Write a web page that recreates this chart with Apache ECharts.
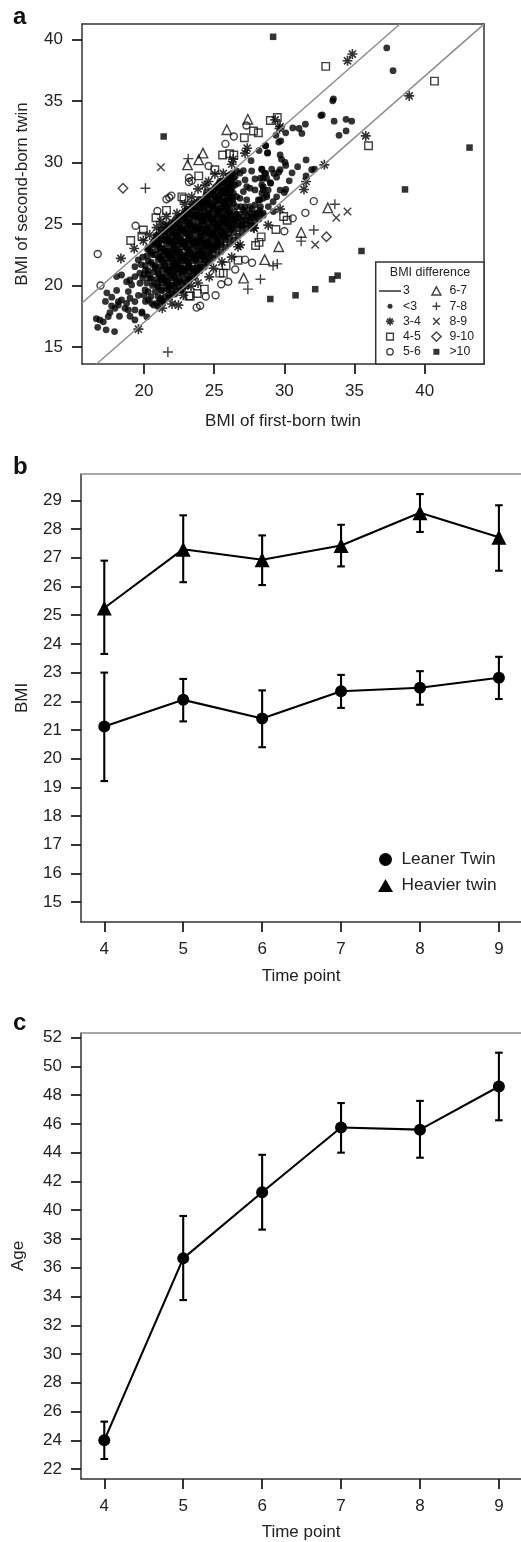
<!DOCTYPE html>
<html><head><meta charset="utf-8">
<script src="https://cdn.jsdelivr.net/npm/echarts@6/dist/echarts.min.js"></script>
<style>html,body{margin:0;padding:0;background:#fff}#c{width:521px;height:1542px}</style>
</head><body><div id="c"></div>
<script>
// Panel a: BMI of first-born twin, BMI of second-born twin
const dotsUnder3 = [
[37.3,39.3],[37.75,37.45],[33.5,35.15],[33.45,35],[32.6,33.8],[32.7,33.85],[33.55,33.35],[34.4,33.5],[34.8,33.35],[33.9,32.2],[34.4,32.55],[31.5,33.1],[30.6,32.8],[31.05,32.75],[31.25,32.35],[30.1,32.4],[29.4,32.2],[29.6,31.65],[29.75,31.75],[28.65,31.35],[28.8,30.75],[29.7,30.6],[29.8,30.25],[30.05,30],[30.1,29.75],[31.55,30.2],[30.95,29.65],[31.95,29.4],[32.15,29.45],[30.55,29.15],[29.7,29.4],[29.6,29.2],[29.1,29.45],[29.25,29.1],[28.4,29.45],[28.6,29.1],[28.5,28.7],[29,28.35],[29.45,28.8],[31.55,28.9],[30.35,28.5],[29.7,27.75],[30.1,27.8],[30,27.55],[29.45,27.2],[29.2,26.8],[28.5,28],[28.85,27.75],[28.75,27.2],[28.4,27.5],[28.25,26.95],[28.25,26.1],
[27.63,30.14],[28.2,30.96],[28.81,30.79],[28.67,31.36],[27.67,29.3],[28.39,29.44],[28.67,29.1],[27.91,28.65],[28.3,28.71],[28.74,28.71],[29.03,28.3],[27.08,29.33],[26.84,29.12],[26.49,28.84],[26.37,28.71],[27.2,28.57],[26.72,28.3],[27.55,27.9],[27.32,28.03],[27.08,27.63],[26.49,28.17],[26.37,27.49],[26.6,27.22],[26.84,27.08],[27.32,26.95],[27.91,27.76],[28.39,28.17],[28.5,27.76],[28.74,27.36],[28.5,27.08],[28.15,26.95],[27.91,26.54],[27.55,26.41],[27.08,26.14],[26.6,26.41],[26.37,26.68],[29.22,26],[28.86,26.41],[28.5,25.87],[27.55,25.87],[28.03,25.87],[27.08,25.6],[26.6,25.73],
[16.6,17.3],[16.85,17.2],[17.1,17.05],[16.7,16.6],[17.3,16.4],[17.9,16.25],[18.25,17.5],[19,17.5],[19.35,17.2],[19.85,17.75],[20.2,17.45],[19.85,17.85],[17.35,19.4],[17.25,18.7],[18.05,19.6],[17.7,19.05],[17.69,18.33],[17.57,17.8],[17.45,17.47],[17.93,18.14],[18.17,18.69],[18.17,18.42],[18.4,18.82],[18.64,18.14],[18.88,18.01],[19.35,18.01],[18.76,18.55],[19,18.96],[19.35,18.69],[18.88,19.5],[19.12,20.04],[18.05,20.72],[18.4,20.85],[18.76,20.31],[19,20.45],[19.35,20.72],[19.35,21.53],[19.59,22.07],[19.71,20.18],[20.07,19.63],[20.3,18.82],[20.54,18.55],[20.9,18.55],[21.13,18.82],
[19.6,19.2],[19.7,21],[19.8,21.7],[19.9,20.6],[19.9,22.3],[20,19.2],[20,20.9],[20.1,21.6],[20.1,18.7],[20.2,22.4],[20.2,20.2],[20.3,19.5],[20.3,21.2],[20.4,22.9],[20.4,20.6],[20.5,19.1],[20.5,21.9],[20.6,23.3],[20.6,20],[20.6,22.5],
[20.7,18.4],[20.8,19.5],[20.7,21.1],[20.9,20.5],[20.8,21.6],[20.7,23.6],[20.9,22.9],[21,19.1],[21,19.9],[21.1,20.9],[21,22.1],[21.1,23.5],[21,24.1],[21.1,21.5],[21.2,22.7],
[21.3,18.7],[21.3,19.6],[21.25,20.2],[21.35,20.7],[21.3,21.3],[21.4,21.9],[21.3,22.4],[21.4,23],[21.3,23.7],[21.4,24.3],[21.5,19.1],[21.55,19.9],[21.5,20.5],[21.6,21],[21.5,21.6],[21.6,22.2],[21.5,22.8],[21.6,23.4],[21.55,24],[21.6,24.6],
[21.75,19.2],[21.8,19.7],[21.7,20.3],[21.85,20.8],[21.75,21.3],[21.8,21.9],[21.7,22.5],[21.85,23],[21.75,23.6],[21.8,24.2],[21.7,24.9],[22,19.3],[22.05,20],[21.95,20.6],[22.1,21.1],[22,21.6],[22.05,22.2],[21.95,22.8],[22.1,23.3],[22,23.9],[22.05,24.5],[21.95,25.1],
[22.25,19.5],[22.3,20.2],[22.2,20.7],[22.35,21.3],[22.25,21.9],[22.3,22.4],[22.2,23],[22.35,23.6],[22.25,24.1],[22.3,24.7],[22.2,25.3],[22.5,19.9],[22.55,20.5],[22.45,21],[22.6,21.6],[22.5,22.1],[22.55,22.7],[22.45,23.3],[22.6,23.8],[22.5,24.4],[22.55,25],[22.45,25.5],
[22.75,19.7],[22.8,20.4],[22.7,20.9],[22.85,21.4],[22.75,22],[22.8,22.5],[22.7,23.1],[22.85,23.6],[22.75,24.2],[22.8,24.8],[22.7,25.3],[22.85,25.8],[23,20.2],[23.05,20.8],[22.95,21.3],[23.1,21.9],[23,22.4],[23.05,23],[22.95,23.5],[23.1,24.1],[23,24.6],[23.05,25.2],[22.95,25.7],[23.1,26.2],
[23.25,20.5],[23.3,21.1],[23.2,21.6],[23.35,22.2],[23.25,22.8],[23.3,23.3],[23.2,23.9],[23.35,24.4],[23.25,25],[23.3,25.5],[23.2,26],[23.5,20.9],[23.55,21.4],[23.45,22],[23.6,22.6],[23.5,23.1],[23.55,23.7],[23.45,24.2],[23.6,24.8],[23.5,25.3],[23.55,25.9],[23.45,26.4],
[23.75,21],[23.8,21.7],[23.7,22.2],[23.85,22.8],[23.75,23.4],[23.8,23.9],[23.7,24.5],[23.85,25],[23.75,25.6],[23.8,26.1],[23.7,26.7],[24,21.5],[24.05,22.1],[23.95,22.6],[24.1,23.2],[24,23.7],[24.05,24.3],[23.95,24.8],[24.1,25.4],[24,25.9],[24.05,26.5],[23.95,27],
[24.25,21.8],[24.3,22.4],[24.2,22.9],[24.35,23.5],[24.25,24.1],[24.3,24.6],[24.2,25.2],[24.35,25.7],[24.25,26.3],[24.3,26.8],[24.5,22.2],[24.55,22.8],[24.45,23.3],[24.6,23.9],[24.5,24.4],[24.55,25],[24.45,25.5],[24.6,26.1],[24.5,26.6],[24.55,27.2],[24.45,27.6],
[24.75,22.4],[24.8,23.1],[24.7,23.7],[24.85,24.2],[24.75,24.8],[24.8,25.3],[24.7,25.9],[24.85,26.4],[24.75,27],[24.8,27.5],[25,22.9],[25.05,23.4],[24.95,24],[25.1,24.5],[25,25.1],[25.05,25.6],[24.95,26.2],[25.1,26.8],[25,27.3],[25.05,27.9],
[25.25,23.2],[25.3,23.8],[25.2,24.3],[25.35,24.9],[25.25,25.4],[25.3,26],[25.2,26.5],[25.35,27.1],[25.25,27.6],[25.3,28.2],[25.5,23.5],[25.55,24.1],[25.45,24.7],[25.6,25.2],[25.5,25.8],[25.55,26.3],[25.45,26.9],[25.6,27.5],[25.5,28],[25.55,28.5],
[25.75,23.9],[25.8,24.4],[25.7,25],[25.85,25.5],[25.75,26.1],[25.8,26.7],[25.7,27.2],[25.85,27.8],[25.75,28.3],[26,24.2],[26.05,24.8],[25.95,25.4],[26.1,25.9],[26,26.5],[26.05,27],[25.95,27.6],[26.1,28.1],[26,28.7],
[26.25,24.6],[26.3,25.2],[26.2,25.7],[26.3,27.1],[26.2,27.8],[26.25,28.4],[26.15,29],[26.5,24.9],[26.55,25.4],[26.45,26],[26.75,25.2],[26.8,25.8],[27,24.9],[27.25,25.3],[27.5,25.2],[27.2,26.4],[27.75,25.5],[27.7,26.2],[28,25.6],[28.3,26.4],
[20.25,22.95],[20.85,24.05],[20.95,23.35],[21.2,24.55],[21.45,24.9],[21.2,18.95],[21.7,19.65],[21.15,20.45],[21.65,21.25],[21.15,22.25],[21.65,22.75],[21.15,23.05],[21.65,23.75],[21.9,20.05],[21.9,21.35],[21.9,22.55],[21.9,23.65],[21.9,24.75],[22.15,19.85],[22.15,21.55],[22.15,22.65],[22.15,23.65],[22.15,24.95],[22.4,20.35],[22.4,21.85],[22.4,22.75],[22.4,24.15],[22.4,25.25],[22.65,20.25],[22.65,21.35],[22.65,22.35],[22.65,23.45],[22.65,24.55],[22.65,25.65],[22.9,21.15],[22.9,22.25],[22.9,23.3],[22.9,24.35],[22.9,25.45],[22.9,26.05],[23.15,20.55],[23.15,21.45],[23.15,22.6],[23.15,23.7],[23.15,24.85],[23.15,25.85],[23.4,21.35],[23.4,22.45],[23.4,23.55],[23.4,24.65],[23.4,25.75],[23.4,26.65],[23.65,21.2],[23.65,22.3],[23.65,23.4],[23.65,24.55],[23.65,25.65],[23.65,26.4],[23.9,21.4],[23.9,22.45],[23.9,23.5],[23.9,24.6],[23.9,25.7],[23.9,26.75],[24.15,22.35],[24.15,23.45],[24.15,24.55],[24.15,25.65],[24.15,26.75],[24.4,22.05],[24.4,23.15],[24.4,24.25],[24.4,25.35],[24.4,26.45],[24.4,27.3],[24.65,22.65],[24.65,23.45],[24.65,24.55],[24.65,25.65],[24.65,26.75],[24.9,23.2],[24.9,24.3],[24.9,25.4],[24.9,26.5],[24.9,27.65],[25.15,23.65],[25.15,24.75],[25.15,25.85],[25.15,26.95],[25.15,28.05],[25.4,24.05],[25.4,25.15],[25.4,26.25],[25.4,27.35],[25.4,28.45],[25.65,24.45],[25.65,25.55],[25.65,26.65],[25.65,27.75],[25.9,24.85],[25.9,25.85],[25.9,26.95],[25.9,28.05],[26.15,25.3],[26.15,26.4],[26.15,27.5],[26.15,28.6],
[20.3,23.1],[20.6,23.4],[20.9,23.8],[21.2,24],[21.5,24.4],[21.8,24.7],[22.1,25],[22.4,25.2],[22.7,25.6],[23,25.9],[23.3,26.2],[23.6,26.4],[23.9,26.7],[24.2,27],[24.5,27.3],[24.8,27.7],[25.1,27.9],[25.4,28.3],[25.7,28.5],[26,28.9],[26.3,29.1],[26.6,29.3],
[21,18.3],[21.4,18.7],[21.8,19],[22.2,19.3],[22.6,19.6],[23,19.95],[23.3,20.5],[23.6,20.7],[24,21.2],[24.3,21.5],[24.6,21.85],[24.9,22.2],[25.2,22.5],[25.5,22.75],[25.8,23.1],[26.1,23.4],[26.4,23.7],[26.7,24],[27,24.3],[27.3,24.6],[27.6,24.9],[27.9,25.1],[28.2,25.4],[28.5,25.7],
[24.9,22.9],[25.2,23.1],[25.5,23.3],[25.8,23.7],[26.1,23.9],[26.4,24.3],[26.7,24.6],[27,24.8],[27.3,25],[27.6,25.5],[27.9,25.8],[28.2,25.9],[26.4,25],[26.7,25.5],[27,25.3],[27.4,25.7],[27.2,26],[26.9,26.4],[26.9,24.9],
[21.2,19.6],[21.7,20.1],[22.2,20.55],[22.7,21.1],[23.2,21.65],[23.7,22.05],[24.2,22.6],[24.7,23.15],[25.2,23.55],[25.7,24.15],[26.2,24.55],
[21,19.95],[21.5,20.4],[22,21],[22.5,21.4],[23,21.95],[23.5,22.5],[24,22.9],[24.5,23.45],[25,24],[25.5,24.4],[26,25],[26.5,25.4],
[20.7,20.2],[21.2,20.7],[21.7,21.2],[22.2,21.7],[22.7,22.2],[23.2,22.7],[23.7,23.2],[24.2,23.7],[24.7,24.2],[25.2,24.7],[25.7,25.2],[26.2,25.7],
[20.5,20.6],[21,21],[21.5,21.55],[22,22.1],[22.5,22.5],[23,23.1],[23.5,23.55],[24,24],[24.5,24.6],[25,25],[25.5,25.55],[26,26.05],
[20.3,20.9],[20.8,21.4],[21.3,21.95],[21.8,22.35],[22.3,22.9],[22.8,23.4],[23.3,23.95],[23.8,24.4],[24.3,24.9],[24.8,25.35],[25.3,25.95],[25.8,26.35],[26.3,26.9],
[20.1,21.25],[20.6,21.7],[21.1,22.3],[21.6,22.7],[22.1,23.3],[22.6,23.7],[23.1,24.3],[23.6,24.75],[24.1,25.25],[24.6,25.8],[25.1,26.2],[25.6,26.8],[26.1,27.2],
[20.3,22],[20.8,22.5],[21.3,23],[21.8,23.5],[22.3,24],[22.8,24.5],[23.3,25],[23.8,25.5],[24.3,26],[24.8,26.5],[25.3,27],[25.8,27.5],[26.3,28],
[20.5,22.7],[21,23.3],[21.5,23.7],[22,24.3],[22.5,24.7],[23,25.3],[23.5,25.7],[24,26.3],[24.5,26.7],[25,27.3],[25.5,27.7],[26,28.3]
];
const stars3to4 = [[34.85,38.8],[34.5,38.25],[38.9,35.4],[35.8,32.15],[32.85,29.8],[31.55,28.45],[31.4,27.8],[29.7,26.2],[29.65,32.75],[29.35,33.45],[27.35,31.15],[27.2,30.75],[26.35,30.25],[26.25,29.85],[25.65,29.1],[25.05,29.05],[24.6,28.45],[23.85,27.85],[24.35,28.15],[22.35,25.85],[21.6,25.6],[18.35,22.2],[19.3,23],[19.95,23.65],[20.4,24.1],[19.6,16.45],[21.3,18.15],[22,18.5],[22.45,18.4],[22.8,19.2],[23.35,19.95],[23.85,20.2],[24.65,20.7],[24.95,21.4],[25.55,21.9],[26.25,22.3],[26.85,23.3],[26.7,23.15],[27.85,24.65],[28.85,24.9],[27.8,24.7],[29.7,32.9],[21.2,25.2],[20.9,24.7],[22.9,26.6],[23.4,27.2]];
const squares4to5 = [[32.95,37.8],[40.7,36.6],[36,31.35],[29.5,33.65],[29,33.4],[28.15,32.4],[27.8,32.55],[27.15,32],[25.6,30.6],[26.1,30.7],[26.4,30.6],[25.05,29.4],[23.9,28.9],[22.7,27.2],[22.85,27.05],[21.6,26.1],[20.85,25.5],[19.95,24.5],[19.05,23.65],[19.85,24],[28.35,23.95],[28.2,23.5],[27.95,23.25],[29.4,24.55],[30.2,25.3],[29.95,25.6],[26.7,22.05],[25.85,21.6],[25.65,21],[25.4,21],[24.3,19.7],[23.8,19.35],[23.3,19.15],[23.2,19.15]];
const circles5to6 = [[16.7,22.55],[19.4,24.85],[26.4,32.1],[27.3,33],[25.8,31.5],[24.6,29.7],[23.2,28.75],[23.4,28.5],[23.2,28.4],[21.6,27],[21.8,27.15],[21.95,27.3],[20.95,26.05],[32.1,26.85],[31.5,25.9],[30.6,25.45],[30,24.4],[27.2,22.1],[27.7,21.85],[26.5,21.3],[26,20.3],[25.5,20.1],[25.1,19.2],[24.4,19.1],[24,18.35],[23.75,18.2],[16.9,20]];
const triangles6to7 = [[27.4,33.5],[25.9,32.65],[24.2,30.75],[23.9,30.2],[23.1,29.8],[31.2,24.3],[29.6,23.15],[28.6,22.1],[27.1,20.6],[33.1,26.3]];
const plus7to8 = [[20.1,27.9],[23.15,30.3],[21.7,14.6],[33.6,26.6],[32.1,24.5],[31.2,23.6],[29.5,21.75],[29.2,21.6],[27.4,19.7],[28.3,20.5]];
const cross8to9 = [[21.2,29.6],[34.5,26],[33.7,25.5],[32.2,23.3]];
const diamonds9to10 = [[18.5,27.9],[33,23.95]];
const squaresOver10 = [[29.2,40.2],[21.4,32.1],[43.2,31.2],[38.6,27.8],[35.5,22.8],[33.8,20.8],[33.4,20.5],[32.2,19.7],[30.8,19.2],[29,18.9]];
const refUpper = [[15.58,18.58],[38.24,41.24]];
const refLower = [[16.62,13.62],[44.23,41.23]];
const bmiTicksX = [20,25,30,35,40];
const bmiTicksY = [15,20,25,30,35,40];

// Panel b and c
const timePoints = [4,5,6,7,8,9];
const leanerMean = [21.12,22.05,21.4,22.35,22.47,22.82];
const leanerLow  = [19.22,21.3,20.4,21.77,21.88,22.08];
const leanerHigh = [23.0,22.78,22.38,22.92,23.05,23.55];
const heavierMean = [25.25,27.3,26.93,27.43,28.57,27.72];
const heavierLow  = [23.65,26.15,26.05,26.7,27.9,26.55];
const heavierHigh = [26.9,28.48,27.78,28.15,29.22,28.83];
const ageMean = [24.0,36.65,41.25,45.75,45.6,48.6];
const ageLow  = [22.7,33.75,38.65,44.0,43.65,46.25];
const ageHigh = [25.3,39.6,43.85,47.45,47.6,50.95];
const bTicks = [15,16,17,18,19,20,21,22,23,24,25,26,27,28,29];
const cTicks = [22,24,26,28,30,32,34,36,38,40,42,44,46,48,50,52];

const FONT = '"Liberation Sans", Arial, sans-serif';
const INK = '#222', AX = '#333', GREY = '#8c8c8c';
const FS = 17;
const BG = 'rgba(255,255,255,0)';

const pad = 'M0 0L0 0M10 10L10 10';
const P = {
  star: 'path://M5 0V10M0 5H10M1.46 1.46L8.54 8.54M1.46 8.54L8.54 1.46',
  square: 'path://M0 0H10V10H0Z',
  tri: 'path://M5 0L10 9H0Z',
  plus: 'path://M0 5H10M5 0V10',
  cross: 'path://M0 0L10 10M0 10L10 0',
  dia: 'path://M5 0L10 5L5 10L0 5Z'
};
const L = {
  line: 'path://M0 0H22V1.4H0Z',
  dot: 'path://'+pad+'M5 2.5A2.5 2.5 0 1 1 5 7.5A2.5 2.5 0 1 1 5 2.5Z',
  star: 'path://'+pad+'M5 1V9M1 5H9M2.2 2.2L7.8 7.8M2.2 7.8L7.8 2.2',
  square: 'path://'+pad+'M1.6 1.6H8.4V8.4H1.6Z',
  circle: 'path://'+pad+'M5 1.8A3.2 3.2 0 1 1 5 8.2A3.2 3.2 0 1 1 5 1.8Z',
  tri: 'path://'+pad+'M5 0.8L9.5 9H0.5Z',
  plus: 'path://'+pad+'M1 5H9M5 1V9',
  cross: 'path://'+pad+'M1.7 1.7L8.3 8.3M1.7 8.3L8.3 1.7',
  dia: 'path://'+pad+'M5 0.3L9.7 5L5 9.7L0.3 5Z',
  fsq: 'path://'+pad+'M2 2H8V8H2Z'
};
const hollow = {color: BG, borderColor: '#111', borderWidth: 1.4};
const solid = {color: '#000', borderWidth: 0};
const starStyle = {color: BG, borderColor: '#000', borderWidth: 1.6};

function scatter(name, data, symbol, size, style) {
  return {type:'scatter', name, data, symbol, symbolSize:size, itemStyle:style, xAxisIndex:0, yAxisIndex:0, z:2, silent:true, animation:false};
}
function legendEntry(name, icon, style) { return {name, icon, itemStyle:style}; }

function panelX(gridIndex, position, min, max, ticks, name, isTop, color, gap) {
  return {
    type:'value', gridIndex, position, min, max, name: isTop ? '' : name, nameLocation:'middle', nameGap:gap||0,
    nameTextStyle:{fontFamily:FONT,fontSize:FS,color:INK},
    axisLine:{show:true,onZero:false,lineStyle:{color:color||AX,width:1.5}},
    axisTick:{show:!isTop,length:10,customValues:ticks,lineStyle:{color:'#111',width:1.7}},
    axisLabel:{show:!isTop,margin:19,customValues:ticks,fontFamily:FONT,fontSize:FS,color:INK},
    splitLine:{show:false}
  };
}
function panelY(gridIndex, position, min, max, ticks, name, gap) {
  const empty = !ticks;
  return {
    type:'value', gridIndex, position, min, max, name: name||'', nameLocation:'middle', nameGap:gap||0,
    nameTextStyle:{fontFamily:FONT,fontSize:FS,color:INK},
    axisLine:{show:true,onZero:false,lineStyle:{color:AX,width:1.5}},
    axisTick:{show:!empty,length:10,customValues:ticks||[],lineStyle:{color:'#111',width:1.7}},
    axisLabel:{show:!empty,margin:19,customValues:ticks||[],fontFamily:FONT,fontSize:FS,color:INK},
    splitLine:{show:false}
  };
}
function errorBars(x, lo, hi, xi, yi) {
  return {
    type:'custom', xAxisIndex:xi, yAxisIndex:yi, z:3, silent:true, animation:false,
    data: x.map((v,i)=>[v,lo[i],hi[i]]),
    renderItem(params, api) {
      const a = api.coord([api.value(0), api.value(1)]);
      const b = api.coord([api.value(0), api.value(2)]);
      const w = 3.8, st = {stroke:'#000', lineWidth:2.1, fill:null};
      return {type:'group', children:[
        {type:'line', shape:{x1:a[0],y1:a[1],x2:b[0],y2:b[1]}, style:st},
        {type:'line', shape:{x1:a[0]-w,y1:a[1],x2:a[0]+w,y2:a[1]}, style:st},
        {type:'line', shape:{x1:b[0]-w,y1:b[1],x2:b[0]+w,y2:b[1]}, style:st}
      ]};
    }
  };
}
function meanLine(name, x, y, xi, yi, symbol, size) {
  return {type:'line', name, xAxisIndex:xi, yAxisIndex:yi, z:4, silent:true, animation:false,
    data:x.map((v,i)=>[v,y[i]]), symbol, symbolSize:size, showSymbol:true,
    lineStyle:{color:'#000',width:2.1}, itemStyle:{color:'#000'}};
}
const legendText = {fontFamily:FONT,fontSize:12.3,color:INK,padding:[0,0,0,-3]};
const letter = {fontFamily:FONT,fontWeight:'bold',fontSize:24,color:'#111'};
const option = {
  backgroundColor:'#fff', animation:false,
  textStyle:{fontFamily:FONT},
  title:[
    {text:'a',left:13,top:5,padding:0,textStyle:letter},
    {text:'b',left:13,top:455,padding:0,textStyle:letter},
    {text:'c',left:13,top:1011,padding:0,textStyle:letter}
  ],
  grid:[
    {left:82,top:24,width:402,height:340},
    {left:81,top:474,width:440,height:448},
    {left:81,top:1033,width:440,height:448}
  ],
  xAxis:[
    panelX(0,'bottom',15.58,44.23,bmiTicksX,'BMI of first-born twin',false,null,49),
    panelX(0,'top',15.58,44.23,[],'',true),
    panelX(1,'bottom',3.705,9.28,timePoints,'Time point',false,null,46),
    panelX(1,'top',3.705,9.28,[],'',true,GREY),
    panelX(2,'bottom',3.705,9.28,timePoints,'Time point',false,null,45),
    panelX(2,'top',3.705,9.28,[],'',true,GREY)
  ],
  yAxis:[
    panelY(0,'left',13.62,41.24,bmiTicksY,'BMI of second-born twin',51),
    panelY(0,'right',13.62,41.24,null),
    panelY(1,'left',14.31,29.92,bTicks,'BMI',50),
    panelY(2,'left',21.31,52.32,cTicks,'Age',54)
  ],
  legend:[
    {orient:'vertical',left:379,top:285,padding:0,itemWidth:22,itemHeight:10,itemGap:3.2,selectedMode:false,textStyle:legendText,
     data:[legendEntry('3',L.line,{color:'#222',borderWidth:0}),legendEntry('<3',L.dot,solid),legendEntry('3-4',L.star,{color:BG,borderColor:'#000',borderWidth:1.6}),legendEntry('4-5',L.square,hollow),legendEntry('5-6',L.circle,hollow)]},
    {orient:'vertical',left:430.7,top:285,padding:0,itemWidth:22,itemHeight:10,itemGap:3.2,selectedMode:false,textStyle:legendText,
     data:[legendEntry('6-7',L.tri,hollow),legendEntry('7-8',L.plus,hollow),legendEntry('8-9',L.cross,hollow),legendEntry('9-10',L.dia,hollow),legendEntry('>10',L.fsq,solid)]},
    {orient:'vertical',left:378,top:851,padding:0,itemWidth:15,itemHeight:13,itemGap:9,selectedMode:false,
     textStyle:{fontFamily:FONT,fontSize:17.3,color:INK,padding:[0,0,0,3.5]},
     data:[{name:'Leaner Twin',icon:'circle',itemStyle:{color:'#000'}},{name:'Heavier twin',icon:'triangle',itemStyle:{color:'#000'}}]}
  ],
  graphic:[
    {type:'rect',z:1,shape:{x:375.7,y:262,width:108.3,height:102},style:{fill:'#fff',stroke:AX,lineWidth:1.5}},
    {type:'text',z:5,style:{x:430,y:273,text:'BMI difference',textAlign:'center',textVerticalAlign:'middle',fontFamily:FONT,fontSize:12.5,fill:INK}}
  ],
  series:[
    scatter('<3',dotsUnder3,'circle',6.8,solid),
    scatter('3-4',stars3to4,P.star,10,starStyle),
    scatter('4-5',squares4to5,P.square,7.5,hollow),
    scatter('5-6',circles5to6,'circle',7,hollow),
    scatter('6-7',triangles6to7,P.tri,9.5,hollow),
    scatter('7-8',plus7to8,P.plus,10,hollow),
    scatter('8-9',cross8to9,P.cross,7.5,hollow),
    scatter('9-10',diamonds9to10,P.dia,9.5,hollow),
    scatter('>10',squaresOver10,P.square,6.5,solid),
    {type:'line',name:'3',data:refUpper,xAxisIndex:0,yAxisIndex:0,symbol:'none',z:3,silent:true,animation:false,lineStyle:{color:GREY,width:1.5},itemStyle:{color:'#222'}},
    {type:'line',name:'3',data:refLower,xAxisIndex:0,yAxisIndex:0,symbol:'none',z:3,silent:true,animation:false,lineStyle:{color:GREY,width:1.5},itemStyle:{color:'#222'}},
    errorBars(timePoints,leanerLow,leanerHigh,2,2),
    errorBars(timePoints,heavierLow,heavierHigh,2,2),
    meanLine('Leaner Twin',timePoints,leanerMean,2,2,'circle',12),
    meanLine('Heavier twin',timePoints,heavierMean,2,2,'triangle',15),
    errorBars(timePoints,ageLow,ageHigh,4,3),
    meanLine('Age',timePoints,ageMean,4,3,'circle',12)
  ]
};
const chart = echarts.init(document.getElementById('c'),null,{renderer:'canvas',width:521,height:1542});
chart.setOption(option);
</script></body></html>
